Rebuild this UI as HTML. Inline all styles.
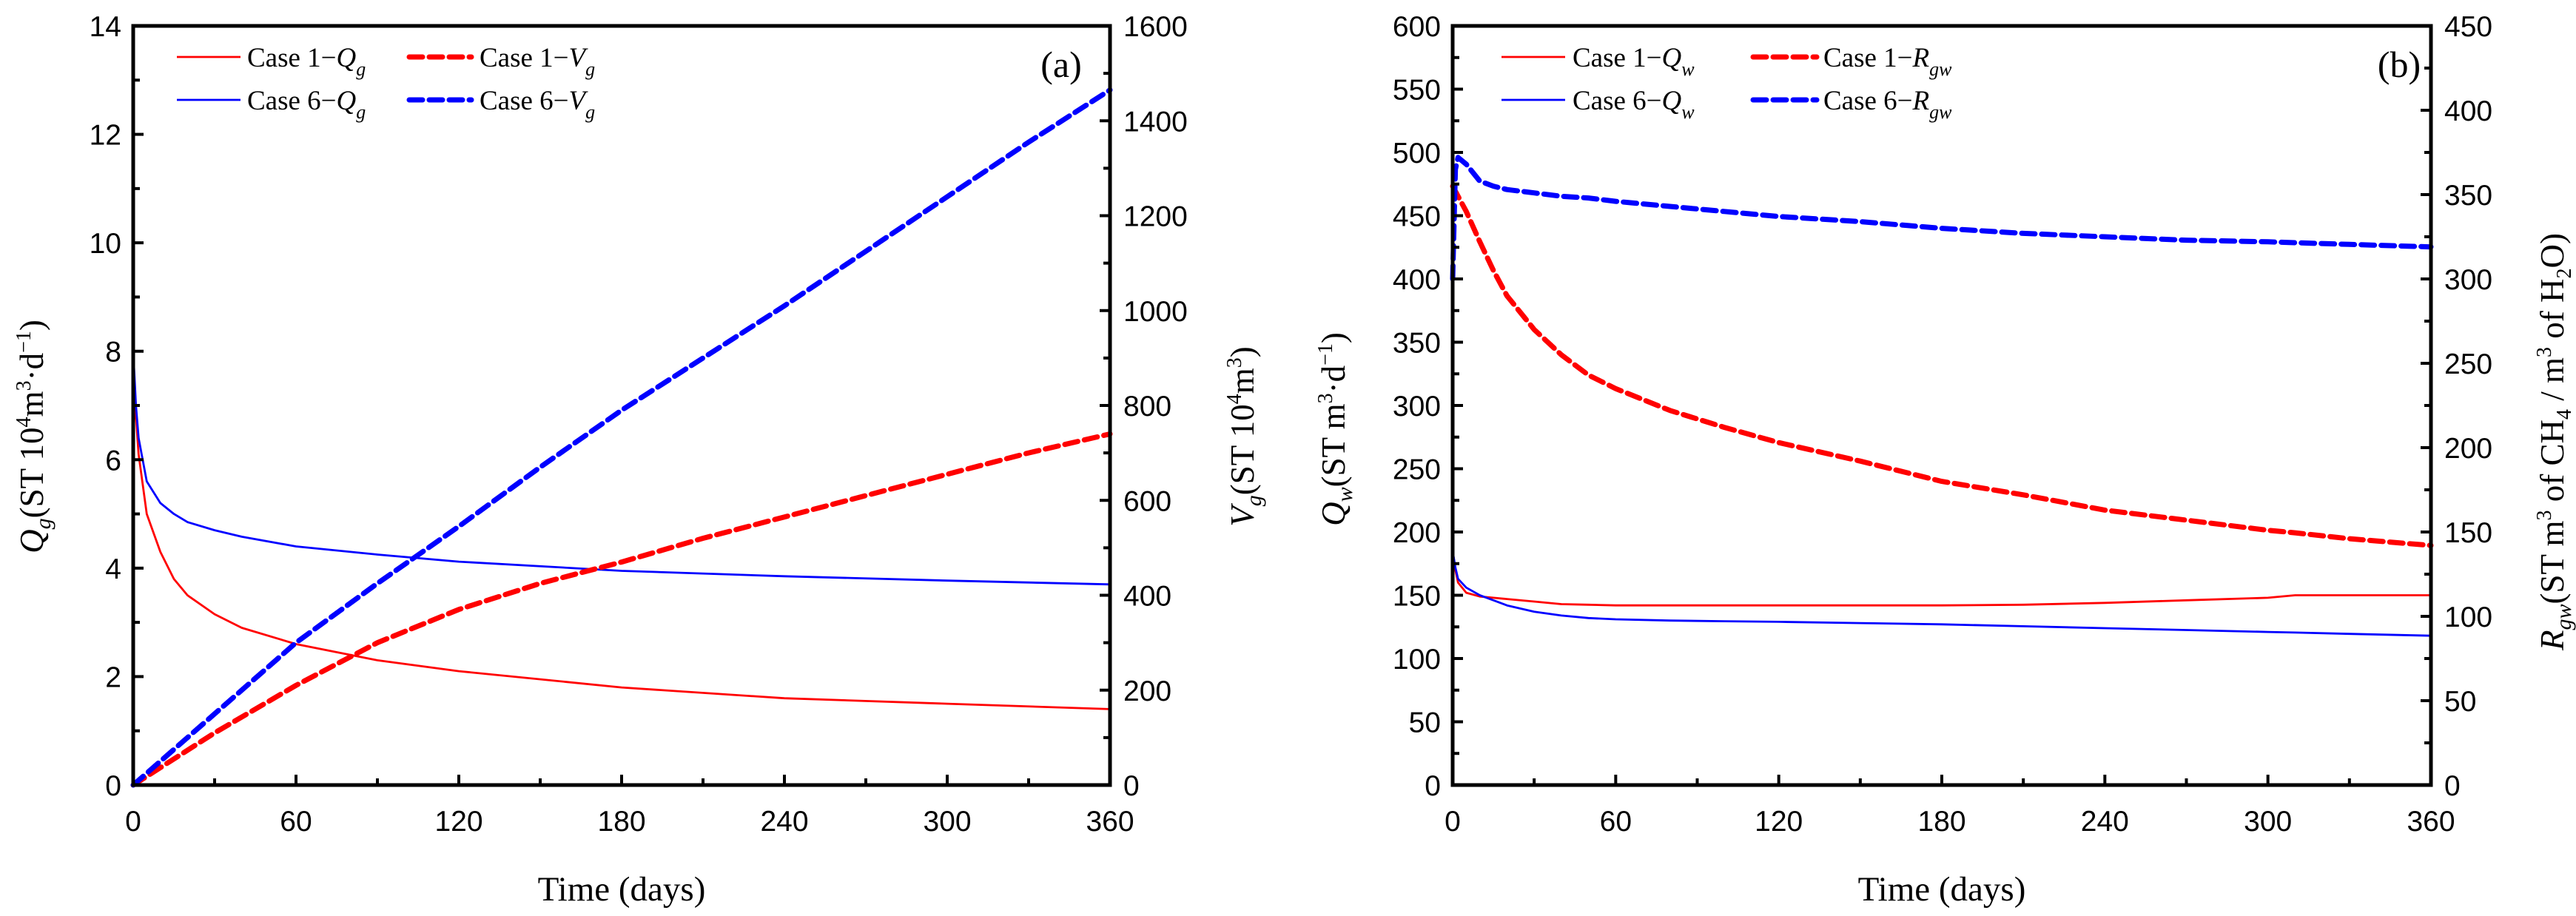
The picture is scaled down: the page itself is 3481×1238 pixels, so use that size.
<!DOCTYPE html>
<html><head><meta charset="utf-8"><style>
html,body{margin:0;padding:0;background:#fff;}
svg{display:block;}
.tk{font-family:"Liberation Sans Narrow","Liberation Sans",sans-serif;font-size:39px;fill:#000;}
.tm{font-family:"Liberation Serif",serif;fill:#000;}
</style></head><body>
<svg id="chart" width="3481" height="1238" viewBox="0 0 3481 1238" xmlns="http://www.w3.org/2000/svg">
<g id="pa"></g>
<g id="pb"></g>
</svg>
<script>
// Panel (a) data
const daysA1 = [0,1,2,5,10,15,20,30,40,60,90,120,180,240,300,360];
const qg1 = [7.6,6.8,6.1,5.0,4.3,3.8,3.5,3.15,2.9,2.6,2.3,2.1,1.8,1.6,1.5,1.4];
const qg6 = [8.0,7.0,6.4,5.6,5.2,5.0,4.85,4.7,4.58,4.4,4.25,4.12,3.95,3.85,3.77,3.7];
const daysV = [0,30,60,90,120,150,180,210,240,270,300,330,360];
const vg1 = [0,110,210,300,370,425,470,520,565,610,655,700,740];
const vg6 = [0,150,300,425,545,670,790,900,1010,1125,1240,1355,1465];
// Panel (b) data
const daysB = [0,1,2,5,10,15,20,30,40,50,60,80,100,120,150,180,210,240,270,300,310,330,360];
const qw1 = [185,170,160,152,149,148,147,145,143,142.5,142,142,142,142,142,142,142.5,144,146,148,150,150,150];
const qw6 = [185,172,163,156,150,146,142,137,134,132,131,130,129.5,129,128,127,125.5,124,122.5,121,120.5,119.5,118];
const rgw1 = [355,352,349,340,322,305,290,270,255,243,235,222,212,203,192,180,172,163,157,151,149.5,146,142];
const rgw6 = [300,365,372,368,358,355,353,351,349,348,346,343,340,337,334,330,327,325,323,322,321.5,320.5,319];

const NS='http://www.w3.org/2000/svg';
function mk(parent,tag,attrs){const e=document.createElementNS(NS,tag);for(const k in attrs)e.setAttribute(k,attrs[k]);parent.appendChild(e);return e;}

function panel(g,cfg){
  const L=cfg.L,R=cfg.R,T=35,B=1061;
  const sx=d=>L+(d/360)*(R-L);
  const syL=v=>B-(v/cfg.lMax)*(B-T);
  const syR=v=>B-(v/cfg.rMax)*(B-T);
  function line(xs,ys,sy,color,dashed,name){
    const p=xs.map((d,i)=>(i?'L':'M')+sx(d).toFixed(1)+' '+sy(ys[i]).toFixed(1)).join(' ');
    const e=mk(g,'path',{d:p,fill:'none',stroke:color,'stroke-width':dashed?7:2.8,'stroke-dasharray':dashed?'18 9':'none','stroke-linecap':dashed?'round':'butt','stroke-linejoin':'round'});
    
    
  }
  cfg.series.forEach(s=>line(s.x,s.y,s.right?syR:syL,s.color,s.dashed,s.name));
  const fr=mk(g,'rect',{x:L,y:T,width:R-L,height:B-T,fill:'none',stroke:'#000','stroke-width':5});
  
  
  for(let d=0;d<=360;d+=30){
    const x=sx(d);const maj=d%60===0;
    mk(g,'line',{x1:x,x2:x,y1:B,y2:B-(maj?14:9),stroke:'#000','stroke-width':4});
    if(maj){const t=mk(g,'text',{x:x,y:B+62,'text-anchor':'middle',class:'tk'});t.textContent=d;
      
      }
  }
  for(let v=0;v<=cfg.lMax+1e-9;v+=cfg.lMinor){
    const y=syL(v);const maj=Math.abs(v/cfg.lStep-Math.round(v/cfg.lStep))<1e-6;
    mk(g,'line',{x1:L,x2:L+(maj?14:9),y1:y,y2:y,stroke:'#000','stroke-width':4});
    if(maj){const t=mk(g,'text',{x:L-16,y:y+14,'text-anchor':'end',class:'tk'});t.textContent=Math.round(v);
      
      }
  }
  for(let v=0;v<=cfg.rMax+1e-9;v+=cfg.rMinor){
    const y=syR(v);const maj=Math.abs(v/cfg.rStep-Math.round(v/cfg.rStep))<1e-6;
    mk(g,'line',{x1:R,x2:R-(maj?14:9),y1:y,y2:y,stroke:'#000','stroke-width':4});
    if(maj){const t=mk(g,'text',{x:R+18,y:y+14,'text-anchor':'start',class:'tk'});t.textContent=Math.round(v);
      
      }
  }
}

const A=document.getElementById('pa'), Bp=document.getElementById('pb');
panel(A,{L:180,R:1500,lMax:14,lStep:2,lMinor:1,rMax:1600,rStep:200,rMinor:100,series:[
  {x:daysA1,y:qg1,color:'#ff0000',dashed:false,name:'case1-qg-line'},
  {x:daysA1,y:qg6,color:'#0000ff',dashed:false,name:'case6-qg-line'},
  {x:daysV,y:vg1,color:'#ff0000',dashed:true,right:true,name:'case1-vg-line'},
  {x:daysV,y:vg6,color:'#0000ff',dashed:true,right:true,name:'case6-vg-line'}]});
panel(Bp,{L:1963,R:3285,lMax:600,lStep:50,lMinor:25,rMax:450,rStep:50,rMinor:25,series:[
  {x:daysB,y:qw1,color:'#ff0000',dashed:false,name:'case1-qw-line'},
  {x:daysB,y:qw6,color:'#0000ff',dashed:false,name:'case6-qw-line'},
  {x:daysB,y:rgw1,color:'#ff0000',dashed:true,right:true,name:'case1-rgw-line'},
  {x:daysB,y:rgw6,color:'#0000ff',dashed:true,right:true,name:'case6-rgw-line'}]});
</script>
<svg style="position:absolute;left:0;top:0" width="3481" height="1238">
<g class="tm" font-size="37">
 <g>
  <line x1="239" y1="77" x2="325" y2="77" stroke="#f00" stroke-width="2.8"/>
  <text x="334" y="90">Case 1−<tspan font-style="italic">Q</tspan><tspan font-style="italic" font-size="26" dy="12">g</tspan></text>
  <line x1="239" y1="135" x2="325" y2="135" stroke="#00f" stroke-width="2.8"/>
  <text x="334" y="148">Case 6−<tspan font-style="italic">Q</tspan><tspan font-style="italic" font-size="26" dy="12">g</tspan></text>
  <line x1="553" y1="77" x2="637" y2="77" stroke="#f00" stroke-width="7" stroke-dasharray="18 9" stroke-linecap="round"/>
  <text x="648" y="90">Case 1−<tspan font-style="italic">V</tspan><tspan font-style="italic" font-size="26" dy="12">g</tspan></text>
  <line x1="553" y1="135" x2="637" y2="135" stroke="#00f" stroke-width="7" stroke-dasharray="18 9" stroke-linecap="round"/>
  <text x="648" y="148">Case 6−<tspan font-style="italic">V</tspan><tspan font-style="italic" font-size="26" dy="12">g</tspan></text>
  <text x="1434" y="104" font-size="50" text-anchor="middle">(a)</text>
 </g>
 <g>
  <line x1="2029" y1="77" x2="2115" y2="77" stroke="#f00" stroke-width="2.8"/>
  <text x="2125" y="90">Case 1−<tspan font-style="italic">Q</tspan><tspan font-style="italic" font-size="26" dy="12">w</tspan></text>
  <line x1="2029" y1="135" x2="2115" y2="135" stroke="#00f" stroke-width="2.8"/>
  <text x="2125" y="148">Case 6−<tspan font-style="italic">Q</tspan><tspan font-style="italic" font-size="26" dy="12">w</tspan></text>
  <line x1="2369" y1="77" x2="2455" y2="77" stroke="#f00" stroke-width="7" stroke-dasharray="18 9" stroke-linecap="round"/>
  <text x="2464" y="90">Case 1−<tspan font-style="italic">R</tspan><tspan font-style="italic" font-size="26" dy="12">gw</tspan></text>
  <line x1="2369" y1="135" x2="2455" y2="135" stroke="#00f" stroke-width="7" stroke-dasharray="18 9" stroke-linecap="round"/>
  <text x="2464" y="148">Case 6−<tspan font-style="italic">R</tspan><tspan font-style="italic" font-size="26" dy="12">gw</tspan></text>
  <text x="3242" y="104" font-size="50" text-anchor="middle">(b)</text>
 </g>
 <text x="840" y="1217" font-size="47" text-anchor="middle">Time (days)</text>
 <text x="2624" y="1217" font-size="47" text-anchor="middle">Time (days)</text>
 <text transform="translate(58,590) rotate(-90)" font-size="45" text-anchor="middle"><tspan font-style="italic">Q</tspan><tspan font-style="italic" font-size="30" dy="10">g</tspan><tspan dy="-10">(ST 10</tspan><tspan font-size="28" dy="-17">4</tspan><tspan dy="17">m</tspan><tspan font-size="28" dy="-17">3</tspan><tspan dy="17">·d</tspan><tspan font-size="28" dy="-17">−1</tspan><tspan dy="17">)</tspan></text>
 <text transform="translate(1694,590) rotate(-90)" font-size="45" text-anchor="middle"><tspan font-style="italic">V</tspan><tspan font-style="italic" font-size="30" dy="10">g</tspan><tspan dy="-10">(ST 10</tspan><tspan font-size="28" dy="-17">4</tspan><tspan dy="17">m</tspan><tspan font-size="28" dy="-17">3</tspan><tspan dy="17">)</tspan></text>
 <text transform="translate(1817,580) rotate(-90)" font-size="45" text-anchor="middle"><tspan font-style="italic">Q</tspan><tspan font-style="italic" font-size="30" dy="10">w</tspan><tspan dy="-10">(ST m</tspan><tspan font-size="28" dy="-17">3</tspan><tspan dy="17">·d</tspan><tspan font-size="28" dy="-17">−1</tspan><tspan dy="17">)</tspan></text>
 <text transform="translate(3464,597) rotate(-90)" font-size="45" text-anchor="middle"><tspan font-style="italic">R</tspan><tspan font-style="italic" font-size="30" dy="10">gw</tspan><tspan dy="-10">(ST m</tspan><tspan font-size="28" dy="-17">3</tspan><tspan dy="17"> of CH</tspan><tspan font-size="28" dy="10">4</tspan><tspan dy="-10"> / m</tspan><tspan font-size="28" dy="-17">3</tspan><tspan dy="17"> of H</tspan><tspan font-size="28" dy="10">2</tspan><tspan dy="-10">O)</tspan></text>
</g>
</svg>
</body></html>
